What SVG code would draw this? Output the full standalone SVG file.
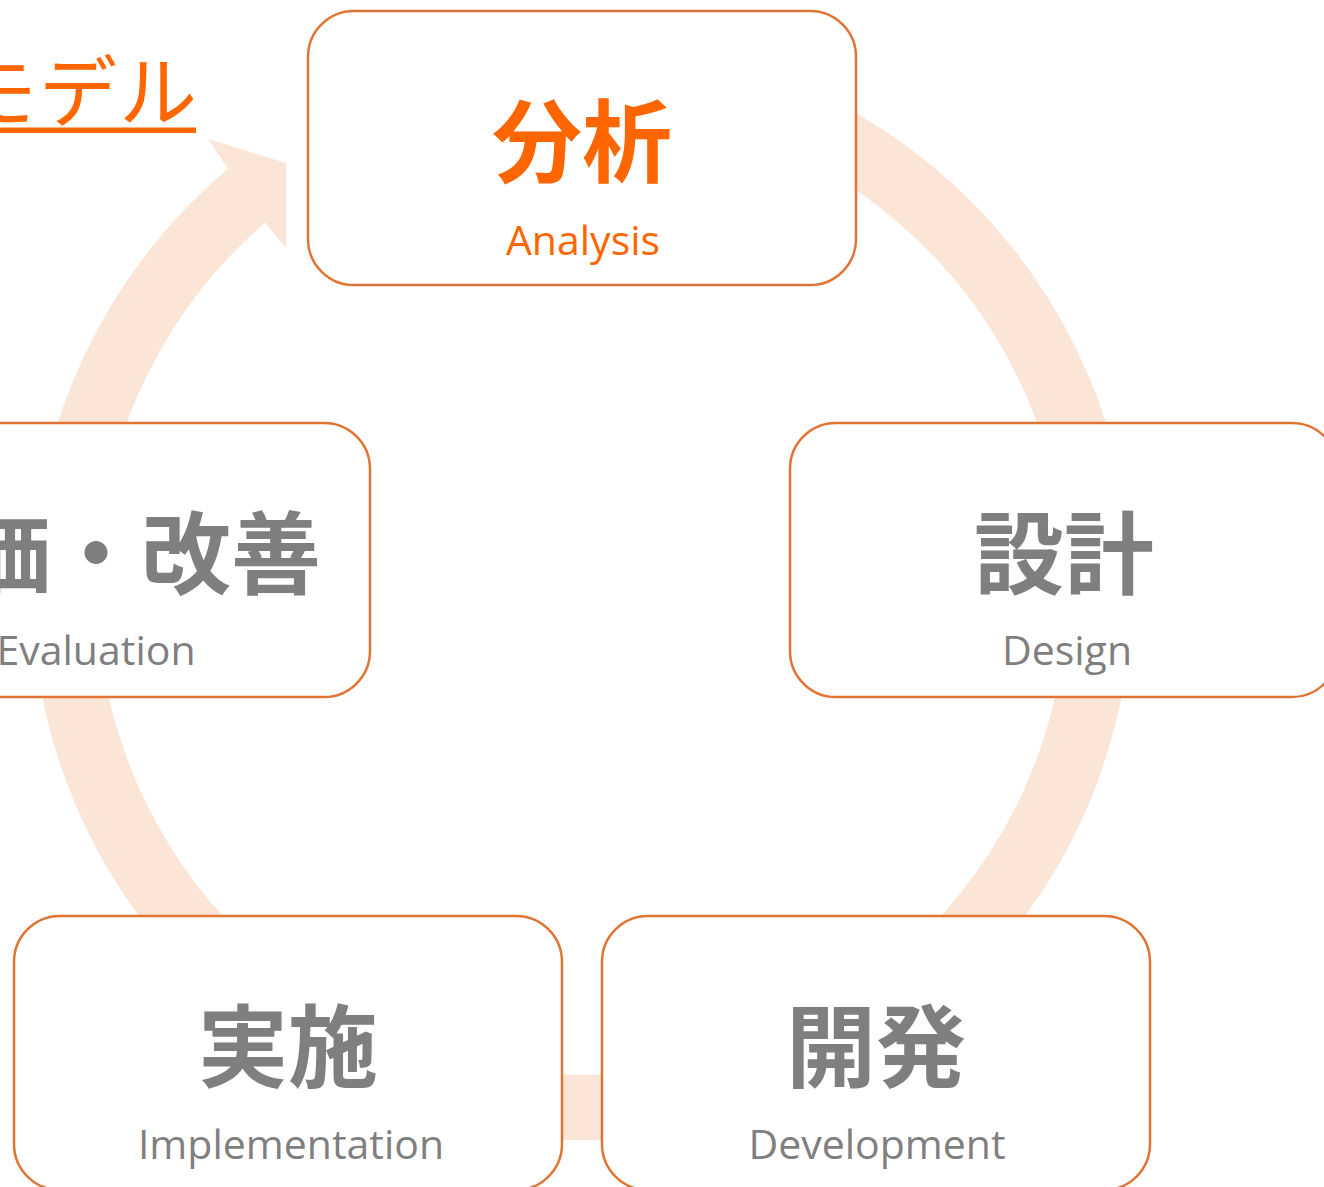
<svg xmlns="http://www.w3.org/2000/svg" width="1324" height="1187" viewBox="0 0 1324 1187">
  <style>
    .box { fill: #FFFFFF; stroke: #E07432; stroke-width: 2.5; }
    .kanji { font-family: "Noto Sans CJK JP", "Noto Sans", sans-serif; font-weight: 700; font-size: 90px; text-anchor: middle; }
    .latin { font-family: "Open Sans", "Noto Sans", sans-serif; font-weight: 400; font-size: 41px; text-anchor: middle; }
    .orange { fill: #FF6600; }
    .gray { fill: #7F7F7F; }
    .band { fill: none; stroke: #FBE5D6; stroke-width: 65; }
  </style>

  <rect width="1324" height="1187" fill="#FFFFFF"/>

  <g id="title">
    <text x="199" y="121" font-family="Noto Sans CJK JP, sans-serif" font-size="78" letter-spacing="2" fill="#FF6600" text-anchor="end">モデル</text>
    <rect x="0" y="127.5" width="196" height="5.5" fill="#FF6600"/>
  </g>

  <g id="connectors">
    <path class="band" d="M 256.3 187.8 A 517.5 517.5 0 1 0 536.9 74.5"/>
    <polygon points="227,167 208,139 286,163 286,248 264,221" fill="#FBE5D6"/>
  </g>

  <g id="node-analysis">
    <rect class="box" x="308" y="11" width="548" height="274" rx="46" ry="46"/>
    <text class="kanji orange" x="582" y="175">分析</text>
    <text class="latin orange" x="583" y="255">Analysis</text>
  </g>

  <g id="node-design">
    <rect class="box" x="790" y="423" width="548" height="274" rx="46" ry="46"/>
    <text class="kanji gray" x="1064" y="587">設計</text>
    <text class="latin gray" x="1067" y="665">Design</text>
  </g>

  <g id="node-development">
    <rect class="box" x="602" y="916" width="548" height="274" rx="46" ry="46"/>
    <text class="kanji gray" x="876" y="1080">開発</text>
    <text class="latin gray" x="877" y="1159">Development</text>
  </g>

  <g id="node-implementation">
    <rect class="box" x="14" y="916" width="548" height="274" rx="46" ry="46"/>
    <text class="kanji gray" x="288" y="1080">実施</text>
    <text class="latin gray" x="291" y="1159">Implementation</text>
  </g>

  <g id="node-evaluation">
    <rect class="box" x="-178" y="423" width="548" height="274" rx="46" ry="46"/>
    <text class="kanji gray" x="96" y="587">評価・改善</text>
    <text class="latin gray" x="96" y="665">Evaluation</text>
  </g>
</svg>
